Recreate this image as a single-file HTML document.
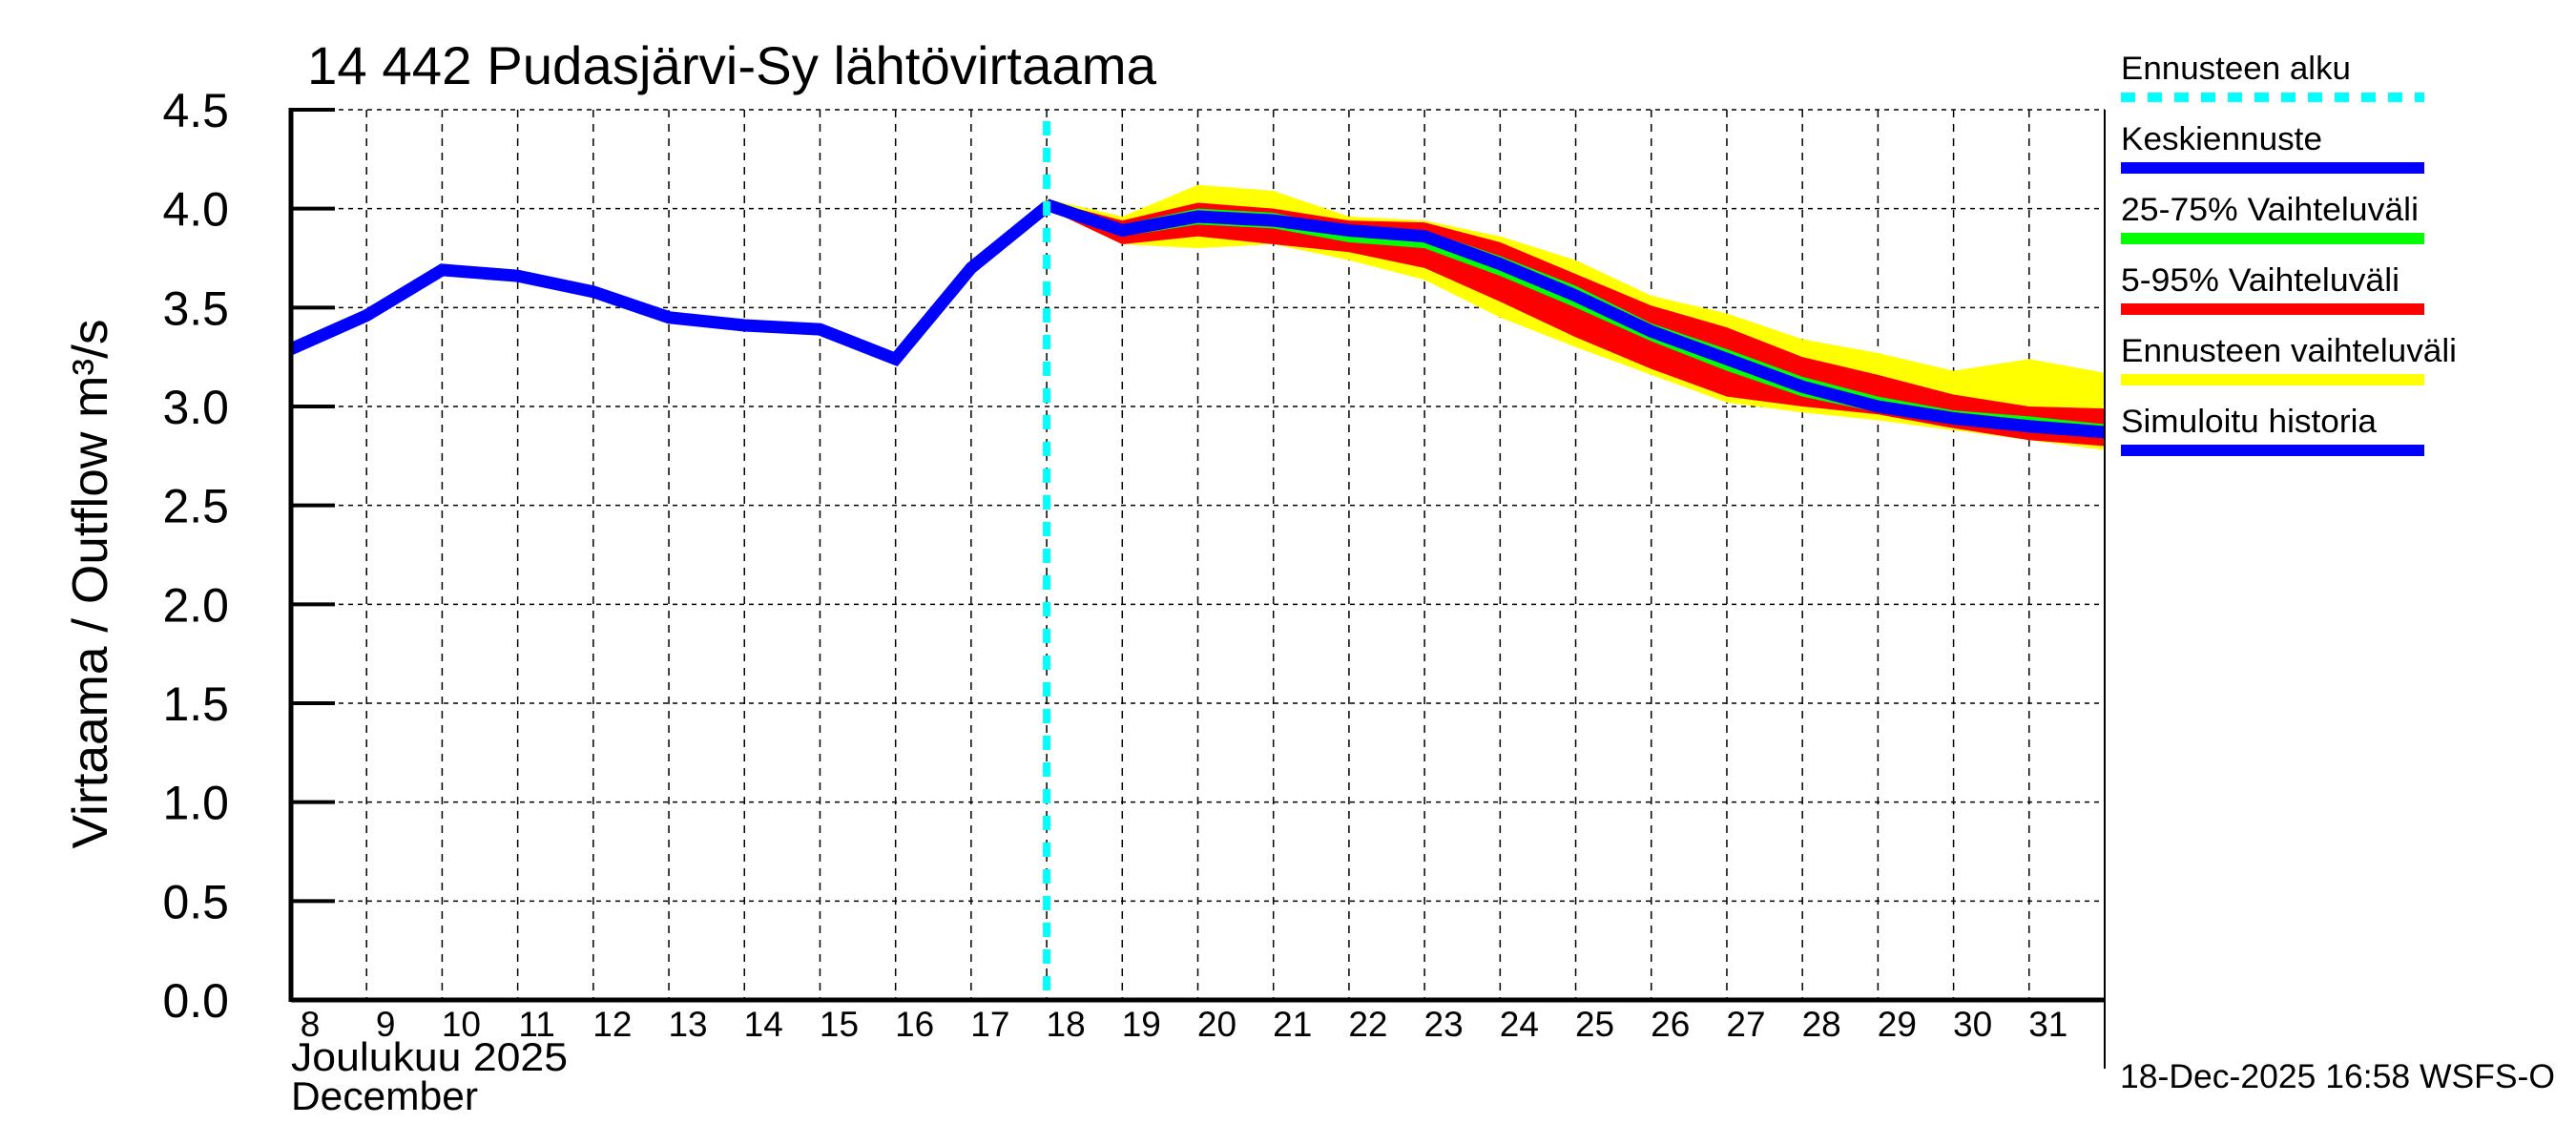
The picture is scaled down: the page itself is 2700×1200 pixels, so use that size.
<!DOCTYPE html>
<html><head><meta charset="utf-8"><style>
html,body{margin:0;padding:0;background:#fff;}
svg{display:block;font-family:"Liberation Sans",sans-serif;}
</style></head><body>
<svg id="chart" width="2700" height="1200" viewBox="0 0 2700 1200" xmlns="http://www.w3.org/2000/svg">
<rect width="2700" height="1200" fill="#fff"/>
<text x="322" y="88" font-size="56" textLength="890" lengthAdjust="spacingAndGlyphs">14 442 Pudasjärvi-Sy lähtövirtaama</text>
<text transform="translate(112,612) rotate(-90)" text-anchor="middle" font-size="52" textLength="555" lengthAdjust="spacingAndGlyphs">Virtaama / Outflow    m³/s</text>
<g id="grid"></g>
<g id="bands"></g>
<g id="lines"></g>
<g id="axes"></g>
<g id="legend"></g>
<text x="305" y="1122" font-size="42" textLength="290" lengthAdjust="spacingAndGlyphs">Joulukuu  2025</text>
<text x="305" y="1163" font-size="42" textLength="196" lengthAdjust="spacingAndGlyphs">December</text>
<text x="2222" y="1140" font-size="35" textLength="456" lengthAdjust="spacingAndGlyphs">18-Dec-2025 16:58 WSFS-O</text>
</svg>
<script>
const histDays=[8,9,10,11,12,13,14,15,16,17,18];
const histVals=[3.29,3.46,3.69,3.66,3.58,3.45,3.41,3.39,3.24,3.70,4.01];
const fcDays=[18,19,20,21,22,23,24,25,26,27,28,29,30,31,32];
const fcMean=[4.02,3.89,3.96,3.94,3.89,3.86,3.72,3.56,3.38,3.24,3.10,3.00,2.94,2.90,2.87];
const p25=[4.01,3.86,3.92,3.90,3.83,3.80,3.66,3.50,3.33,3.18,3.05,2.97,2.91,2.88,2.84];
const p75=[4.02,3.92,4.00,3.98,3.90,3.89,3.76,3.61,3.42,3.29,3.15,3.05,2.98,2.95,2.91];
const p5=[4.00,3.82,3.86,3.82,3.78,3.70,3.53,3.35,3.19,3.05,3.00,2.96,2.89,2.83,2.80];
const p95=[4.04,3.94,4.03,4.00,3.94,3.93,3.83,3.67,3.51,3.40,3.25,3.16,3.06,3.00,2.99];
const ensMin=[4.00,3.82,3.80,3.82,3.74,3.64,3.45,3.30,3.16,3.02,2.97,2.93,2.88,2.83,2.78];
const ensMax=[4.05,3.96,4.12,4.09,3.96,3.94,3.86,3.74,3.56,3.47,3.34,3.27,3.18,3.24,3.17];
const yTicks=[0,0.5,1,1.5,2,2.5,3,3.5,4,4.5];
const xTickDays=[8,9,10,11,12,13,14,15,16,17,18,19,20,21,22,23,24,25,26,27,28,29,30,31];
const forecastStart=18;

const NS="http://www.w3.org/2000/svg";
const X0=305,X1=2206,Y0=1048,Y1=115,D0=8,D1=32,V0=0,V1=4.5;
const xs=d=>X0+(d-D0)*(X1-X0)/(D1-D0);
const ys=v=>Y0-(v-V0)*(Y0-Y1)/(V1-V0);
function mk(tag,attrs,parent){const e=document.createElementNS(NS,tag);for(const k in attrs)e.setAttribute(k,attrs[k]);parent.appendChild(e);return e;}
const grid=document.getElementById('grid'),bands=document.getElementById('bands'),lines=document.getElementById('lines'),axes=document.getElementById('axes'),legend=document.getElementById('legend');

yTicks.forEach(v=>{
  if(v>0){const g=mk('line',{x1:X0,x2:X1,y1:ys(v),y2:ys(v),stroke:'#000','stroke-width':1.5,'stroke-dasharray':'5,5'},grid);
  
  }
  const t=mk('line',{x1:X0,x2:X0+46,y1:ys(v),y2:ys(v),stroke:'#000','stroke-width':4},axes);
  
  
  const l=mk('text',{x:240,y:ys(v)+18,'text-anchor':'end','font-size':50},axes);
  l.textContent=v.toFixed(1);
  
  
});
xTickDays.forEach(d=>{
  if(d>D0){const g=mk('line',{x1:xs(d),x2:xs(d),y1:Y1,y2:Y0,stroke:'#000','stroke-width':1.5,'stroke-dasharray':'8,7'},grid);
  
  }
  const l=mk('text',{x:xs(d)+20,y:1086,'text-anchor':'middle','font-size':37},axes);
  l.textContent=d;
  
  
});

function band(lo,hi,color,name){
  let pts=fcDays.map((d,i)=>xs(d)+','+ys(hi[i]));
  pts=pts.concat(fcDays.map((d,i)=>xs(d)+','+ys(lo[i])).reverse());
  const p=mk('polygon',{points:pts.join(' '),fill:color},bands);
  
  
}
band(ensMin,ensMax,'#ffff00','ensemble-range-band');
band(p5,p95,'#ff0000','p5-95-band');
band(p25,p75,'#00ff00','p25-75-band');

const hl=mk('polyline',{points:histDays.map((d,i)=>xs(d)+','+ys(histVals[i])).join(' '),fill:'none',stroke:'#0000ff','stroke-width':13,'stroke-linejoin':'miter'},lines);


const ml=mk('polyline',{points:fcDays.map((d,i)=>xs(d)+','+ys(fcMean[i])).join(' '),fill:'none',stroke:'#0000ff','stroke-width':13},lines);


const fl=mk('line',{x1:xs(forecastStart),x2:xs(forecastStart),y1:127,y2:Y0,stroke:'#00ffff','stroke-width':8,'stroke-dasharray':'15,13'},lines);



const la=mk('line',{x1:X0,x2:X0,y1:Y1-2,y2:Y0+2,stroke:'#000','stroke-width':5},axes);


const ba=mk('line',{x1:X0,x2:X1,y1:Y0,y2:Y0,stroke:'#000','stroke-width':5},axes);


const ra=mk('line',{x1:X1,x2:X1,y1:Y1,y2:1120,stroke:'#000','stroke-width':2},axes);



const legNames=['Ennusteen alku','Keskiennuste','25-75% Vaihteluväli','5-95% Vaihteluväli','Ennusteen vaihteluväli','Simuloitu historia'];
const legColors=['#00ffff','#0000ff','#00ff00','#ff0000','#ffff00','#0000ff'];
const legWidths=[241,211,312,292,352,268];
legNames.forEach((n,i)=>{
  const by=83+i*74;
  const t=mk('text',{x:2223,y:by,'font-size':34,textLength:legWidths[i],lengthAdjust:'spacingAndGlyphs'},legend);
  t.textContent=n;
  
  
  const a={x1:2223,x2:2541,y1:by+19,y2:by+19,stroke:legColors[i],'stroke-width':i==0?10:12};
  if(i==0)a['stroke-dasharray']='15,13';
  const l=mk('line',a,legend);
  
  
});
</script>
</body></html>
